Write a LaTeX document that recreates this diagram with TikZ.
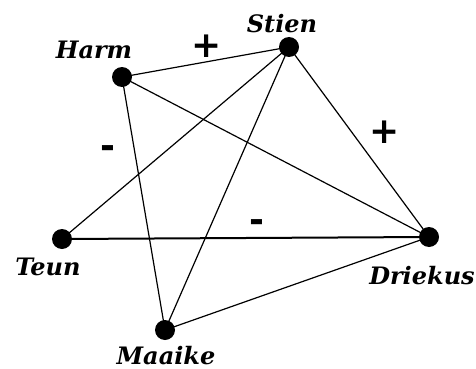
\documentclass[tikz,border=0pt]{standalone}
\usepackage{fontspec}
\setmainfont{DejaVu Serif}
\setsansfont{DejaVu Sans}
\begin{document}
\begin{tikzpicture}[x=1pt,y=-1pt,
  dot/.style={circle,fill=black,inner sep=0pt,minimum size=20pt},
  lbl/.style={font=\fontsize{24}{28}\selectfont\bfseries\itshape,inner sep=0pt,anchor=base},
  sgn/.style={font=\fontsize{36}{38}\selectfont\sffamily\bfseries,inner sep=0pt},
  edge/.style={line width=1.2pt},
  thickedge/.style={line width=2pt}]
\useasboundingbox (0,0) rectangle (476,369);
\node[dot] (H) at (122,77) {};
\node[dot] (S) at (289,47) {};
\node[dot] (T) at (62,239) {};
\node[dot] (D) at (429,237) {};
\node[dot] (M) at (165,330) {};
\node[lbl] (lH) at (94,59) {Harm};
\node[lbl] (lS) at (282,33) {Stien};
\node[lbl] (lT) at (48,275) {Teun};
\node[lbl] (lD) at (422,284) {Driekus};
\node[lbl] (lM) at (166,364) {Maaike};
\draw[edge] (H.center) -- (S.center);
\draw[edge] (H.center) -- (D.center);
\draw[edge] (H.center) -- (M.center);
\draw[edge] (S.center) -- (T.center);
\draw[edge] (S.center) -- (M.center);
\draw[edge] (S.center) -- (D.center);
\draw[thickedge] (T.center) -- (D.center);
\draw[edge] (M.center) -- (D.center);
\node[sgn] (p1) at (207,46) {+};
\node[sgn] (p2) at (385,132) {+};
\node[sgn] (m1) at (108,152) {-};
\node[sgn] (m2) at (257,226) {-};
\end{tikzpicture}
\end{document}
